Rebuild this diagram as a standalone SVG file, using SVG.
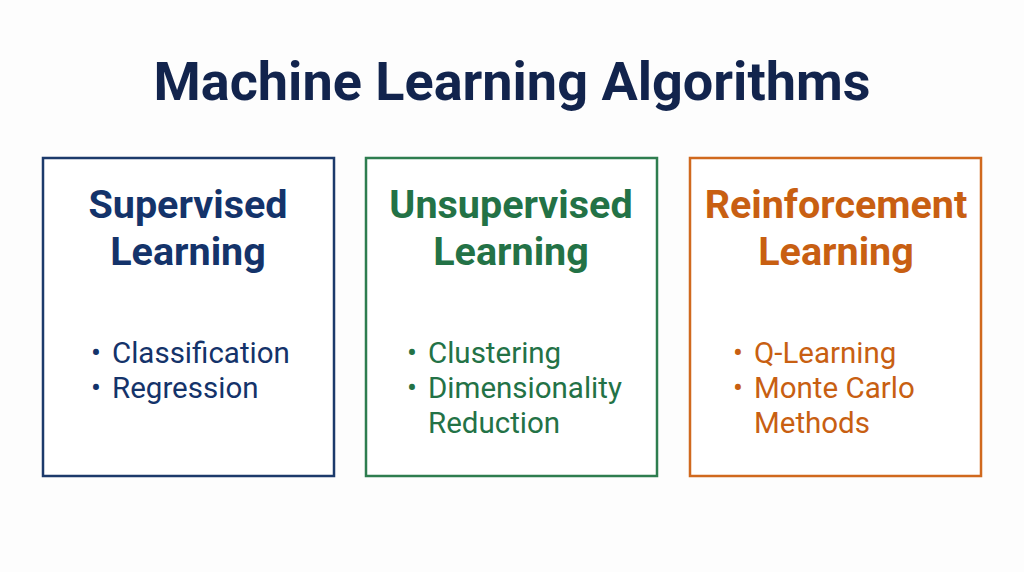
<svg xmlns="http://www.w3.org/2000/svg" width="1024" height="572" viewBox="0 0 1024 572">
<style>
.t{font-family:Roboto,"Liberation Sans",sans-serif;font-weight:bold;font-size:54px;fill:#12244d}
.h{font-family:Roboto,"Liberation Sans",sans-serif;font-weight:bold;font-size:39.5px;text-anchor:middle}
.b{font-family:Roboto,"Liberation Sans",sans-serif;font-size:29.5px}
.box{fill:#fff;stroke-width:2.5}
</style>
<rect width="1024" height="572" fill="#fdfdfd"/>
<text class="t" x="512" y="100" text-anchor="middle">Machine Learning Algorithms</text>
<g id="supervised" fill="#14336a">
<rect class="box" x="43" y="158" width="291" height="318" stroke="#1c3a6b"/>
<text class="h" x="188" y="218">Supervised</text>
<text class="h" x="188" y="265">Learning</text>
<text class="b" x="91" y="363">•</text><text class="b" x="112" y="363">Classification</text>
<text class="b" x="91" y="398">•</text><text class="b" x="112" y="398">Regression</text>
</g>
<g id="unsupervised" fill="#237246">
<rect class="box" x="366" y="158" width="291" height="318" stroke="#2e7d4f"/>
<text class="h" x="511" y="218">Unsupervised</text>
<text class="h" x="511" y="265">Learning</text>
<text class="b" x="407" y="363">•</text><text class="b" x="428" y="363">Clustering</text>
<text class="b" x="407" y="398">•</text><text class="b" x="428" y="398">Dimensionality</text>
<text class="b" x="428" y="433">Reduction</text>
</g>
<g id="reinforcement" fill="#c85f12">
<rect class="box" x="690" y="158" width="291" height="318" stroke="#d0691e"/>
<text class="h" x="836" y="218">Reinforcement</text>
<text class="h" x="836" y="265">Learning</text>
<text class="b" x="733" y="363">•</text><text class="b" x="754" y="363">Q-Learning</text>
<text class="b" x="733" y="398">•</text><text class="b" x="754" y="398">Monte Carlo</text>
<text class="b" x="754" y="433">Methods</text>
</g>
<g id="connectors"/>
</svg>
